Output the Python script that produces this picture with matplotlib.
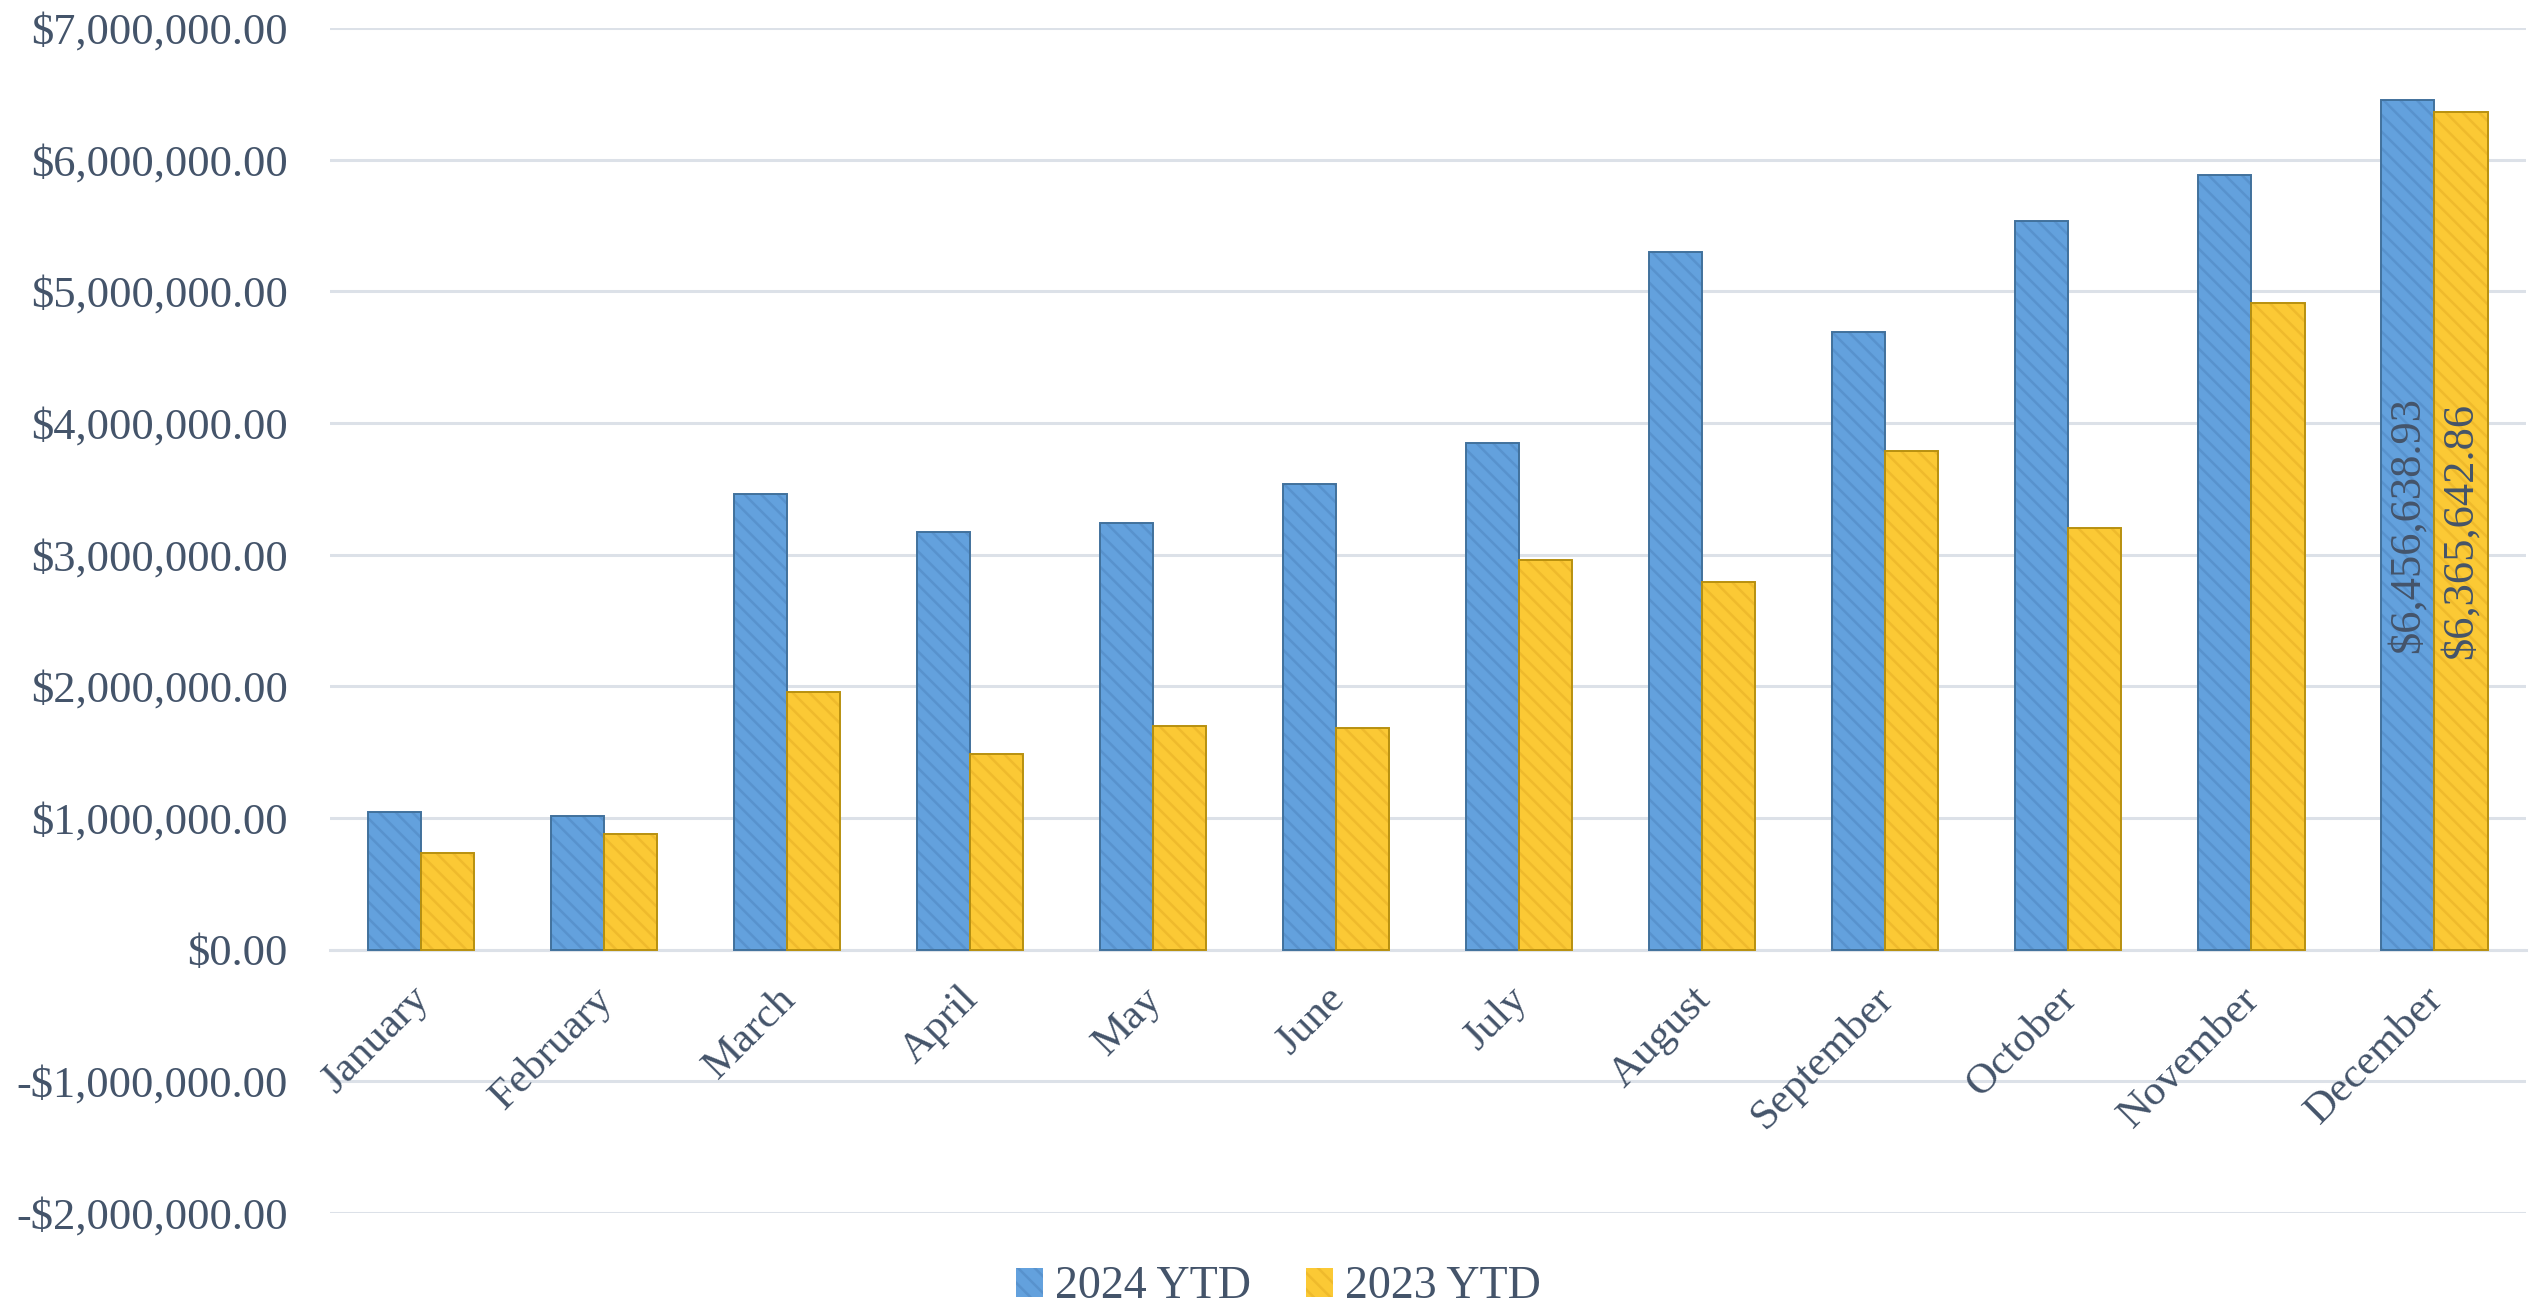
import matplotlib
matplotlib.use("Agg")
import matplotlib.pyplot as plt
from matplotlib.patches import Patch
from matplotlib.ticker import FuncFormatter, MultipleLocator
from matplotlib.transforms import ScaledTranslation
import numpy as np

months = ["January", "February", "March", "April", "May", "June", "July",
          "August", "September", "October", "November", "December"]
ytd_2024 = [1048000, 1015000, 3457000, 3171000, 3240000, 3533000, 3848000,
            5298000, 4690000, 5533000, 5882000, 6456638.93]
ytd_2023 = [734000, 878000, 1957000, 1486000, 1696000, 1681000, 2956000,
            2792000, 3784000, 3199000, 4915000, 6365642.86]
series_names = ["2024 YTD", "2023 YTD"]
labelled_month = "December"

TEXT = "#44546A"
BLUE_FACE, BLUE_HATCH, BLUE_EDGE = "#63A1DD", "#5892CD", "#41719C"
GOLD_FACE, GOLD_HATCH, GOLD_EDGE = "#FBC935", "#EFBA2C", "#B8900F"
GRID = "#DCE1E8"

plt.rcParams["font.family"] = ["Liberation Serif", "DejaVu Serif"]
plt.rcParams["hatch.linewidth"] = 1.8

fig = plt.figure(figsize=(25.39, 13.07), dpi=100)
ax = fig.add_axes([329.5 / 2539, 1 - 1213 / 1307, (2526 - 329.5) / 2539, (1213 - 28) / 1307])

x = np.arange(len(months))
w = 0.29
series = [(ytd_2024, -w / 2, BLUE_FACE, BLUE_HATCH, BLUE_EDGE),
          (ytd_2023, w / 2, GOLD_FACE, GOLD_HATCH, GOLD_EDGE)]
for vals, off, face, hatchc, edge in series:
    ax.bar(x + off, vals, w, color=face, edgecolor="none", zorder=3)
    ax.bar(x + off, vals, w, fill=False, edgecolor=hatchc, hatch="\\\\",
           linewidth=0, zorder=3.1)
    ax.bar(x + off, vals, w, fill=False, edgecolor=edge, linewidth=1.4, zorder=3.2)

# data labels for December
i = months.index(labelled_month)
for vals, off, *_ in series:
    v = vals[i]
    ax.text(x[i] + off, v / 2, f"${v:,.2f}", rotation=90, ha="center", va="center",
            fontsize=32, color=TEXT, zorder=5)

ax.set_xlim(-0.5, len(months) - 0.5)
ax.set_ylim(-2_000_000, 7_000_000)
ax.yaxis.set_major_locator(MultipleLocator(1_000_000))


def money(v, pos):
    s = f"${abs(v):,.2f}"
    return "-" + s if v < 0 else s


ax.yaxis.set_major_formatter(FuncFormatter(money))
ax.grid(axis="y", color=GRID, linewidth=2.2, zorder=0)
ax.set_axisbelow(True)

for side in ["top", "right", "left"]:
    ax.spines[side].set_visible(False)
ax.spines["bottom"].set_position(("data", 0))
ax.spines["bottom"].set_color(GRID)
ax.spines["bottom"].set_linewidth(2.2)
ax.spines["bottom"].set_zorder(2)

# category labels placed just under the zero line
ax.set_xticks(x)
ax.set_xticklabels([])
ax.tick_params(axis="x", length=0)
lbl_tr = ax.transData + ScaledTranslation(0.16, -0.30, fig.dpi_scale_trans)
for xi, m in zip(x, months):
    ax.text(xi, 0, m, transform=lbl_tr, rotation=45, ha="right", va="top",
            fontsize=31, color=TEXT, clip_on=False)

ax.tick_params(axis="y", length=0, pad=30, labelsize=32, labelcolor=TEXT)

handles = [Patch(facecolor=BLUE_FACE, edgecolor=BLUE_HATCH, hatch="\\\\", linewidth=0),
           Patch(facecolor=GOLD_FACE, edgecolor=GOLD_HATCH, hatch="\\\\", linewidth=0)]
fig.legend(handles, series_names, loc="center", bbox_to_anchor=(1278 / 2539, 1 - 1287 / 1307),
           ncol=2, frameon=False, fontsize=33, labelcolor=TEXT, handlelength=0.6,
           handleheight=0.6, handletextpad=0.25, columnspacing=1.2, borderpad=0)

fig.savefig("out.png", dpi=100)
